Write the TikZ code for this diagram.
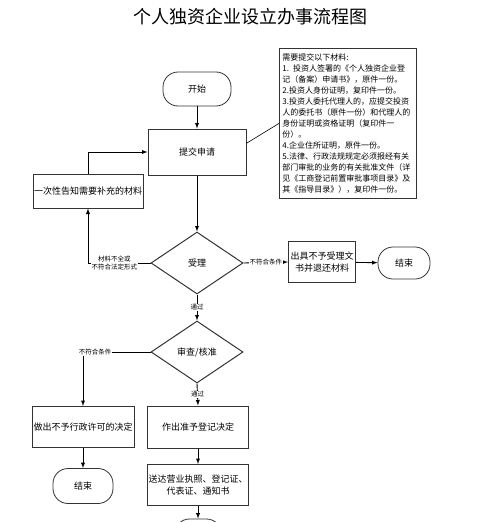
\documentclass[tikz,border=0pt]{standalone}
\usepackage{fontspec}
\setmainfont{Noto Sans CJK SC}
\usepackage{tikz}
\usetikzlibrary{arrows,shapes.geometric}

\begin{document}
\begin{tikzpicture}[x=1pt,y=-1pt,
  box/.style={draw=black!80, line width=1pt, rectangle, align=center,
    inner sep=1pt, font=\fontsize{9}{12}\selectfont},
  term/.style={draw=black!80, line width=0.8pt, rectangle, rounded corners=15pt,
    font=\fontsize{9}{12}\selectfont},
  check/.style={draw=black!80, line width=1pt, diamond, inner sep=0pt,
    minimum width=92pt, minimum height=62pt, font=\fontsize{9}{12}\selectfont},
  lab/.style={fill=white, inner sep=1pt, align=center, font=\fontsize{6.5}{8}\selectfont},
  arr/.style={-latex, line width=0.9pt}]
\clip (0,0) rectangle (500,522);
\node (title) at (250,17) {\fontsize{18}{20}\selectfont 个人独资企业设立办事流程图};
\node[term, minimum width=68pt, minimum height=34pt] (start) at (197,89) {开始};
\node[box, minimum width=98pt, minimum height=46pt] (submit) at (197,152) {提交申请};
\node[box, line width=0.8pt, anchor=north west, text width=131pt, minimum height=150pt,
  inner sep=3pt, align=left, font=\fontsize{8}{11}\selectfont] (note) at (279,48)
  {需要提交以下材料:\\
  1. 投资人签署的《个人独资企业登\\
  记（备案）申请书》，原件一份。\\
  2.投资人身份证明，复印件一份。\\
  3.投资人委托代理人的，应提交投资\\
  人的委托书（原件一份）和代理人的\\
  身份证明或资格证明（复印件一\\
  份）。\\
  4.企业住所证明，原件一份。\\
  5.法律、行政法规规定必须报经有关\\
  部门审批的业务的有关批准文件（详\\
  见《工商登记前置审批事项目录》及\\
  其《指导目录》），复印件一份。};
\node[box, minimum width=102pt, minimum height=34pt] (supp) at (88,191) {一次性告知需要补充的材料};
\node[check] (accept) at (197,263) {受理};
\node[box, minimum width=67pt, minimum height=41pt] (reject) at (322,262) {出具不予受理文\\书并退还材料};
\node[term, minimum width=52pt, minimum height=32pt] (end1) at (404,263) {结束};
\node[check] (review) at (197,352) {审查/核准};
\node[box, minimum width=102pt, minimum height=41pt] (deny) at (83,427) {做出不予行政许可的决定};
\node[box, minimum width=101pt, minimum height=42pt] (approve) at (198,427) {作出准予登记决定};
\node[box, minimum width=101pt, minimum height=41pt] (deliver) at (198,485) {送达营业执照、登记证、\\代表证、通知书};
\node[term, minimum width=60pt, minimum height=35pt] (end2) at (83,486) {结束};
\node[term, minimum width=47pt, minimum height=34pt] (end3) at (198,536) {};

\draw[arr] (start) -- (submit);
\draw[arr] (submit) -- (accept);
\draw[line width=0.6pt] (submit.10) -- (note.west);
\draw[arr] (supp.north) |- (submit.west);
\draw[arr] (accept.west) -| node[lab, pos=0.29] {材料不全或\\不符合法定形式} (supp.south);
\draw[arr] (accept.east) -- node[lab] {不符合条件} (reject.west);
\draw[arr] (reject) -- (end1);
\draw[arr] (accept.south) -- node[lab] {通过} (review.north);
\draw[arr] (review.west) -| node[lab, pos=0.41] {不符合条件} (deny.north);
\draw[arr] (review.south) -- node[lab] {通过} (approve.north);
\draw[arr] (approve) -- (deliver);
\draw[arr] (deliver) -- (end3);
\draw[arr] (deny) -- (end2);
\end{tikzpicture}
\end{document}
